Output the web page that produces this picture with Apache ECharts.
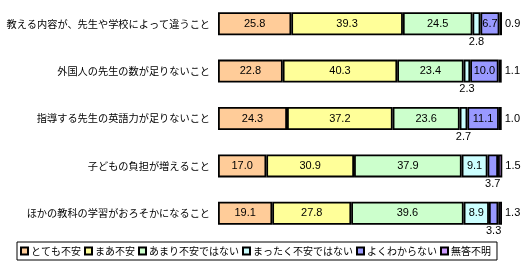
<!DOCTYPE html>
<html>
<head>
<meta charset="utf-8">
<script src="https://cdn.jsdelivr.net/npm/echarts@6/dist/echarts.min.js"></script>
<style>
html,body{margin:0;padding:0;background:#fff;}
#c{width:526px;height:269px;}
</style>
</head>
<body>
<div id="c"></div>
<script>
const categories = [
  '教える内容が、先生や学校によって違うこと',
  '外国人の先生の数が足りないこと',
  '指導する先生の英語力が足りないこと',
  '子どもの負担が増えること',
  'ほかの教科の学習がおろそかになること'
];
const seriesNames = ['とても不安','まあ不安','あまり不安ではない','まったく不安ではない','よくわからない','無答不明'];
const colors = ['#FFCC99','#FFFF99','#CCFFCC','#CCFFFF','#9999FF','#CC99FF'];
const vTotemo   = [25.8, 22.8, 24.3, 17.0, 19.1];
const vMaa      = [39.3, 40.3, 37.2, 30.9, 27.8];
const vAmari    = [24.5, 23.4, 23.6, 37.9, 39.6];
const vMattaku  = [2.8, 2.3, 2.7, 9.1, 8.9];
const vYoku     = [6.7, 10.0, 11.1, 3.7, 3.3];
const vMutou    = [0.9, 1.1, 1.0, 1.5, 1.3];
const allValues = [vTotemo, vMaa, vAmari, vMattaku, vYoku, vMutou];

const FONT = '"Liberation Sans", "Noto Sans CJK JP", sans-serif';

const series = allValues.map((vals, si) => ({
  name: seriesNames[si],
  type: 'bar',
  stack: 'total',
  barWidth: 23,
  itemStyle: { color: colors[si], borderColor: '#000', borderWidth: 1.8 },
  data: vals.map(v => {
    let pos, dist = 2;
    if (si === 5) { pos = 'right'; dist = 3; }
    else if (v < 5) { pos = 'bottom'; dist = 1; }
    else { pos = 'inside'; }
    return {
      value: v,
      label: {
        show: true, position: pos, distance: dist,
        formatter: p => p.value.toFixed(1),
        color: '#000', fontSize: 11, fontFamily: FONT
      }
    };
  })
}));

const chart = echarts.init(document.getElementById('c'), null, {renderer: 'canvas'});
chart.setOption({
  animation: false,
  backgroundColor: '#fff',
  grid: { left: 218, right: 24, top: -8, bottom: 32, containLabel: false },
  xAxis: { type: 'value', min: 0, max: 100, show: false },
  yAxis: {
    type: 'category', data: categories, inverse: true,
    axisLine: { show: false }, axisTick: { show: false },
    axisLabel: { color: '#000', fontSize: 10.2, margin: 8, fontFamily: '"Noto Sans CJK JP", sans-serif' }
  },
  legend: {
    data: seriesNames,
    left: 17, top: 242,
    itemWidth: 7, itemHeight: 7, itemGap: 3,
    icon: 'rect',
    padding: [3, 6, 3, 3],
    borderColor: '#000', borderWidth: 1, borderRadius: 0,
    textStyle: { color: '#000', fontSize: 10, lineHeight: 12, padding: [0,0,0,-2], fontFamily: '"Noto Sans CJK JP", sans-serif' }
  },
  series: series
});
</script>
</body>
</html>
